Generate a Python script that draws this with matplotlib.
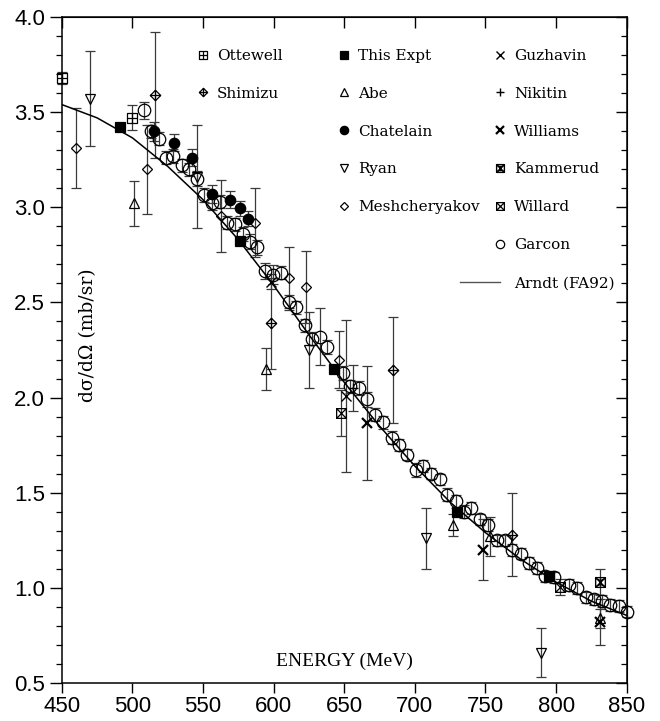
import matplotlib
matplotlib.use("Agg")
import matplotlib.pyplot as plt
from matplotlib.path import Path
from matplotlib.lines import Line2D
from matplotlib.ticker import MultipleLocator

# ─────────────────────────────────────────────
# DATA
# ─────────────────────────────────────────────

ARNDT_E = [450, 475, 500, 525, 550, 575, 600, 625, 650, 675, 700, 725, 750, 775, 800, 825, 850]
ARNDT_V = [3.54, 3.47, 3.365, 3.215, 3.04, 2.83, 2.59, 2.33, 2.08, 1.85, 1.64, 1.45, 1.29, 1.15, 1.03, 0.93, 0.855]

OTTEWELL_E = [450, 500]
OTTEWELL_V = [3.68, 3.47]
OTTEWELL_ERR = [0.03, 0.065]

SHIMIZU_E = [516, 598, 684.5, 769]
SHIMIZU_V = [3.59, 2.39, 2.145, 1.28]
SHIMIZU_ERR = [0.33, 0.24, 0.28, 0.22]

THIS_E = [491, 576, 643, 729.5, 795]
THIS_V = [3.42, 2.825, 2.15, 1.40, 1.06]
THIS_ERR = [0.02, 0.02, 0.02, 0.02, 0.02]

ABE_E = [501, 594.5, 727, 753, 831]
ABE_V = [3.02, 2.15, 1.33, 1.27, 0.84]
ABE_ERR = [0.12, 0.11, 0.06, 0.10, 0.05]

CHATELAIN_E = [515.5, 529.5, 542, 556.5, 569, 576, 582]
CHATELAIN_V = [3.40, 3.34, 3.26, 3.07, 3.04, 2.995, 2.94]
CHATELAIN_ERR = [0.05, 0.045, 0.045, 0.045, 0.045, 0.04, 0.04]

RYAN_E = [470, 545.5, 625, 708, 789]
RYAN_V = [3.57, 3.16, 2.25, 1.26, 0.66]
RYAN_ERR = [0.25, 0.27, 0.20, 0.16, 0.13]

MESHCH_E = [460, 510.5, 563, 587, 611, 623, 646]
MESHCH_V = [3.31, 3.20, 2.955, 2.92, 2.63, 2.58, 2.20]
MESHCH_ERR = [0.21, 0.235, 0.19, 0.18, 0.16, 0.19, 0.15]

GUZHAVIN_E = [598, 651]
GUZHAVIN_V = [2.61, 2.01]
GUZHAVIN_ERR = [0.04, 0.40]

NIKITIN_E = [656]
NIKITIN_V = [2.05]
NIKITIN_ERR = [0.12]

WILLIAMS_E = [666, 748, 831]
WILLIAMS_V = [1.865, 1.20, 0.82]
WILLIAMS_ERR = [0.30, 0.16, 0.12]

KAMMERUD_E = [831]
KAMMERUD_V = [1.03]
KAMMERUD_ERR = [0.07]

WILLARD_E = [648, 802.5]
WILLARD_V = [1.92, 1.005]
WILLARD_ERR = [0.12, 0.04]

GARCON_E = [508, 513, 519, 524, 529, 535, 540, 545.5, 551, 556.5, 562, 567, 572.5, 578,
            583, 588.5, 594, 599.5, 605, 611, 616, 622, 627, 633, 638, 649, 654, 660.5,
            666, 672, 677.5, 683.5, 689, 694.5, 700.5, 706, 711.5, 717.5, 723, 729, 734.5,
            740, 746, 752, 758, 763.5, 769, 775, 781, 786.5, 792, 798.5, 809, 815, 821,
            827, 832.5, 838.5, 844.5, 850]
GARCON_V = [3.51, 3.40, 3.36, 3.26, 3.27, 3.22, 3.20, 3.15, 3.065, 3.02, 3.03, 2.92, 2.91, 2.86,
            2.82, 2.79, 2.665, 2.645, 2.656, 2.50, 2.475, 2.38, 2.31, 2.32, 2.265, 2.13, 2.06, 2.05,
            1.99, 1.91, 1.87, 1.79, 1.75, 1.70, 1.62, 1.64, 1.60, 1.57, 1.49, 1.455, 1.40,
            1.42, 1.36, 1.33, 1.25, 1.25, 1.20, 1.18, 1.13, 1.105, 1.06, 1.055, 1.015, 1.00, 0.95,
            0.94, 0.93, 0.91, 0.905, 0.875]
GARCON_ERR = [0.045, 0.035, 0.035, 0.035, 0.035, 0.035, 0.035, 0.04, 0.035, 0.035, 0.035, 0.035, 0.035, 0.035,
              0.04, 0.04, 0.04, 0.05, 0.035, 0.04, 0.035, 0.035, 0.035, 0.15, 0.035, 0.035, 0.035, 0.035,
              0.04, 0.035, 0.035, 0.035, 0.03, 0.03, 0.035, 0.03, 0.03, 0.03, 0.035, 0.035, 0.035,
              0.03, 0.03, 0.03, 0.03, 0.03, 0.03, 0.03, 0.03, 0.03, 0.03, 0.03, 0.03, 0.03, 0.03,
              0.03, 0.03, 0.03, 0.03, 0.03]

X_TICKS = [450, 500, 550, 600, 650, 700, 750, 800, 850]
Y_TICKS = [0.5, 1.0, 1.5, 2.0, 2.5, 3.0, 3.5, 4.0]

# ─────────────────────────────────────────────
# MARKERS
# ─────────────────────────────────────────────

M, L, C = Path.MOVETO, Path.LINETO, Path.CLOSEPOLY
sq = [(-1, -1), (1, -1), (1, 1), (-1, 1), (-1, -1)]
sq_codes = [M, L, L, L, C]
dia = [(0, -1), (1, 0), (0, 1), (-1, 0), (0, -1)]

box_plus = Path(sq + [(0, -1), (0, 1), (-1, 0), (1, 0)], sq_codes + [M, L, M, L])
dia_plus = Path(dia + [(0, -1), (0, 1), (-1, 0), (1, 0)], sq_codes + [M, L, M, L])
box_x = Path(sq + [(-1, -1), (1, 1), (-1, 1), (1, -1)], sq_codes + [M, L, M, L])
box_hour = Path(sq + [(-1, -1), (1, 1), (-1, 1), (1, -1), (-0.5, 0.5), (0.5, 0.5), (-0.5, -0.5), (0.5, -0.5)],
                sq_codes + [M, L, M, L, M, L, M, L])

BLACK = "black"
BAR = "#3a3a3a"

fig = plt.figure(figsize=(6.6, 7.21), dpi=100)
ax = fig.add_axes([0.0936, 0.0527, 0.856, 0.9237])

series = [
    # (E, V, err, marker, ms, filled, mew, label)
    (GARCON_E, GARCON_V, GARCON_ERR, "o", 9.0, False, 0.9, "Garcon"),
    (OTTEWELL_E, OTTEWELL_V, OTTEWELL_ERR, box_plus, 7.5, False, 0.9, "Ottewell"),
    (SHIMIZU_E, SHIMIZU_V, SHIMIZU_ERR, dia_plus, 7.5, False, 0.9, "Shimizu"),
    (THIS_E, THIS_V, THIS_ERR, "s", 7.0, True, 0.9, "This Expt"),
    (ABE_E, ABE_V, ABE_ERR, "^", 7.5, False, 0.9, "Abe"),
    (CHATELAIN_E, CHATELAIN_V, CHATELAIN_ERR, "o", 7.5, True, 0.9, "Chatelain"),
    (RYAN_E, RYAN_V, RYAN_ERR, "v", 7.5, False, 0.9, "Ryan"),
    (MESHCH_E, MESHCH_V, MESHCH_ERR, "D", 5.0, False, 0.9, "Meshcheryakov"),
    (GUZHAVIN_E, GUZHAVIN_V, GUZHAVIN_ERR, "x", 7.0, False, 1.0, "Guzhavin"),
    (NIKITIN_E, NIKITIN_V, NIKITIN_ERR, "+", 7.0, False, 1.0, "Nikitin"),
    (WILLIAMS_E, WILLIAMS_V, WILLIAMS_ERR, "x", 7.0, False, 1.6, "Williams"),
    (KAMMERUD_E, KAMMERUD_V, KAMMERUD_ERR, box_hour, 7.0, False, 1.0, "Kammerud"),
    (WILLARD_E, WILLARD_V, WILLARD_ERR, box_x, 7.0, False, 0.9, "Willard"),
]

handles = {}
for E, V, err, mk, ms, filled, mew, label in series:
    ax.errorbar(E, V, yerr=err, fmt="none", ecolor=BAR, elinewidth=0.9,
                capsize=3.8, capthick=0.9, clip_on=False, zorder=2)
    ax.plot(E, V, ls="none", marker=mk, ms=ms, mec=BLACK, mew=mew,
            mfc=BLACK if filled else "none", clip_on=False, zorder=3)
    # legend keys are drawn a bit smaller than the data marks
    handles[label] = Line2D([], [], ls="none", marker=mk, ms=min(ms, 7.5) * 0.8, mec=BLACK,
                            mew=mew, mfc=BLACK if filled else "none")

ax.plot(ARNDT_E, ARNDT_V, color=BLACK, lw=1.1, zorder=2.5)

ax.set_xlim(450, 850)
ax.set_ylim(0.5, 4.0)

# ticks: bottom/left point out, top/right point in (all point down/left)
tick_font = dict(family="Liberation Sans", size=16)
ax.set_xticks(X_TICKS)
ax.set_yticks(Y_TICKS)
ax.set_xticklabels([str(t) for t in X_TICKS], fontdict=tick_font)
ax.set_yticklabels([f"{t:.1f}" for t in Y_TICKS], fontdict=tick_font)
ax.yaxis.set_minor_locator(MultipleLocator(0.1))
ax.tick_params(axis="x", which="major", direction="out", length=7, width=1.0, pad=2)
ax.tick_params(axis="y", which="major", direction="out", length=9, width=1.0, pad=3)
ax.tick_params(axis="y", which="minor", direction="out", length=4.5, width=0.9)

top = ax.secondary_xaxis("top")
top.set_xticks(X_TICKS)
top.tick_params(axis="x", direction="in", length=8, width=1.0, labeltop=False)
right = ax.secondary_yaxis("right")
right.set_yticks(Y_TICKS)
right.yaxis.set_minor_locator(MultipleLocator(0.1))
right.tick_params(axis="y", which="major", direction="in", length=8, width=1.0, labelright=False)
right.tick_params(axis="y", which="minor", direction="in", length=4, width=0.9)

for sp in ax.spines.values():
    sp.set_linewidth(1.1)

# axis titles sit inside the frame
ax.text(0.50, 0.032, "ENERGY (MeV)", transform=ax.transAxes, ha="center", va="center",
        family="Liberation Serif", size=14)
ax.text(0.046, 0.522, "dσ/dΩ (mb/sr)", transform=ax.transAxes, ha="center", va="center",
        rotation=90, family="DejaVu Serif", size=13.5)

# ─────────────────────────────────────────────
# LEGEND (three columns + Arndt line)
# ─────────────────────────────────────────────

leg_font = dict(family="DejaVu Serif", size=11)
cols = [
    (["Ottewell", "Shimizu"], 0.2365, 0.40),
    (["This Expt", "Abe", "Chatelain", "Ryan", "Meshcheryakov"], 0.4861, 0.436),
    (["Guzhavin", "Nikitin", "Williams", "Kammerud", "Willard", "Garcon"], 0.7622, 0.42),
]
for labels, x0, pad in cols:
    leg = ax.legend([handles[l] for l in labels], labels, loc="upper left",
                    bbox_to_anchor=(x0, 0.952), frameon=False, prop=leg_font,
                    handlelength=1.0, handletextpad=pad, labelspacing=1.56,
                    borderpad=0, borderaxespad=0, numpoints=1)
    ax.add_artist(leg)

arndt_handle = Line2D([], [], color="#555555", lw=1.0)
ax.legend([arndt_handle], ["Arndt (FA92)"], loc="upper left",
          bbox_to_anchor=(0.7049, 0.610), frameon=False, prop=leg_font,
          handlelength=2.62, handletextpad=0.935, borderpad=0, borderaxespad=0)

fig.savefig("out.png", dpi=100)
